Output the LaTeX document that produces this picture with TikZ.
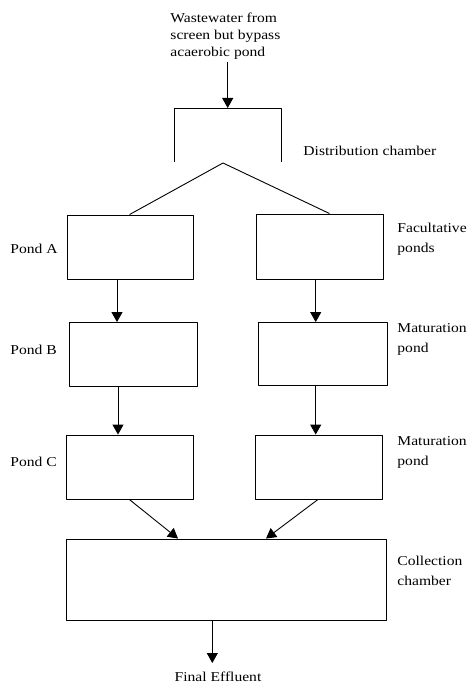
\documentclass[tikz,border=0pt]{standalone}
\usepackage{fontspec}
\setmainfont{Liberation Serif}[FakeStretch=1.15]
\usetikzlibrary{arrows.meta}
\tikzset{
  pond/.style={draw, rectangle, inner sep=0pt},
  lbl/.style={inner sep=0pt, align=left, anchor=base west},
  twoline/.style={font=\fontsize{13.6}{20}\selectfont},
}
\begin{document}
\begin{tikzpicture}[x=1bp,y=-1bp,line join=round,line width=0.9bp,>={Triangle[width=11bp,length=10bp]},font=\fontsize{13.6}{17}\selectfont]
\useasboundingbox (0,0) rectangle (470,683);
\node[pond, minimum width=126bp, minimum height=64bp] (pondA) at (130,247) {};
\node[pond, minimum width=128bp, minimum height=64bp] (pondB) at (133,354.5) {};
\node[pond, minimum width=127bp, minimum height=64bp] (pondC) at (129.5,467) {};
\node[pond, minimum width=127bp, minimum height=65bp] (facul) at (319.5,246.5) {};
\node[pond, minimum width=129bp, minimum height=63bp] (matA) at (322.5,354) {};
\node[pond, minimum width=127bp, minimum height=64bp] (matB) at (319,467) {};
\node[pond, minimum width=320bp, minimum height=81bp] (collect) at (226,579.5) {};
\node[lbl, anchor=south west] (inflow) at (170,59.5) {Wastewater from\\screen but bypass\\acaerobic pond};
\coordinate (dtop) at (227.7,108);
\coordinate (split) at (223,163);
\coordinate (fe) at (212.3,663);
\draw (174,162) -- (174,108) -- (281,108) -- (281,162);
\draw[->, shorten <=2.5bp] (inflow.south -| dtop) -- (dtop);
\draw ([xshift=63bp]pondA.north west) -- (split) -- ([xshift=74bp]facul.north west);
\draw[->] (pondA.south -| 117,0) -- (pondB.north -| 117,0);
\draw[->] (pondB.south -| 118,0) -- (pondC.north -| 118,0);
\draw[->] (facul.south -| 315.7,0) -- (matA.north -| 315.7,0);
\draw[->] (matA.south -| 315.7,0) -- (matB.north -| 315.7,0);
\draw[->] (pondC.south -| 129.3,0) -- (collect.north -| 178,0);
\draw[->] (matB.south -| 318,0) -- (collect.north -| 266,0);
\draw[->] (collect.south -| fe) -- (fe);
\node[lbl, anchor=base] (final) at (218,681.5) {Final Effluent};
\node[lbl] (labDist) at (303,155) {Distribution chamber};
\node[lbl] (labA) at (10,253) {Pond A};
\node[lbl] (labB) at (10,354) {Pond B};
\node[lbl] (labC) at (10,466) {Pond C};
\node[lbl, twoline] (labFac) at (397,252) {Facultative\\ponds};
\node[lbl, twoline] (labMatA) at (397,352) {Maturation\\pond};
\node[lbl, twoline] (labMatB) at (397,465) {Maturation\\pond};
\node[lbl, twoline] (labCol) at (397,585) {Collection\\chamber};
\end{tikzpicture}
\end{document}
